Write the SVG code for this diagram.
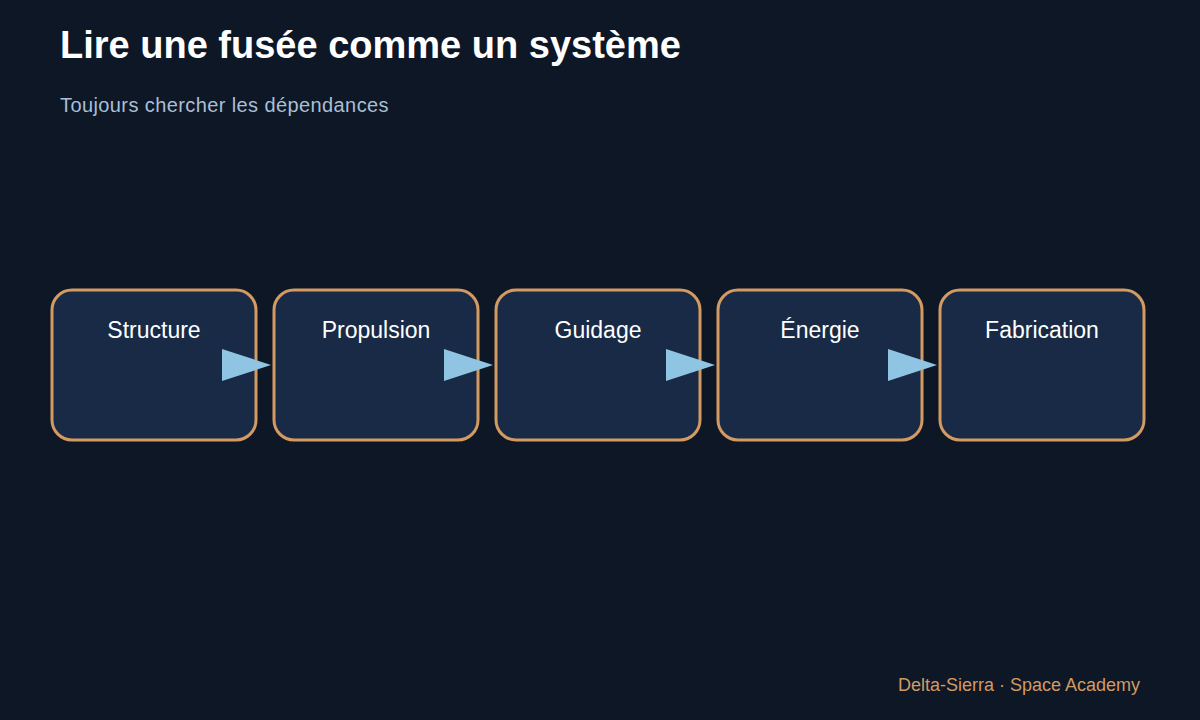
<svg xmlns="http://www.w3.org/2000/svg" width="1200" height="720" viewBox="0 0 1200 720">
<style>
.box{fill:#182a45;stroke:#d39a62;stroke-width:3}
.lbl{font-family:"Liberation Sans",Arial,sans-serif;font-size:23px;fill:#ffffff;text-anchor:middle}
.arr{fill:#8fc4e2}
</style>
<rect width="1200" height="720" fill="#0e1726"/>
<text x="60" y="58" font-family="Liberation Sans,Arial,sans-serif" font-size="38" font-weight="bold" fill="#ffffff">Lire une fusée comme un système</text>
<text x="60" y="112" font-family="Liberation Sans,Arial,sans-serif" font-size="20" fill="#a9bfd4" letter-spacing="0.4">Toujours chercher les dépendances</text>
<g id="n1"><rect class="box" x="52" y="290" width="204" height="150" rx="20"/><text class="lbl" x="154" y="338">Structure</text></g>
<g id="n2"><rect class="box" x="274" y="290" width="204" height="150" rx="20"/><text class="lbl" x="376" y="338">Propulsion</text></g>
<g id="n3"><rect class="box" x="496" y="290" width="204" height="150" rx="20"/><text class="lbl" x="598" y="338">Guidage</text></g>
<g id="n4"><rect class="box" x="718" y="290" width="204" height="150" rx="20"/><text class="lbl" x="820" y="338">Énergie</text></g>
<g id="n5"><rect class="box" x="940" y="290" width="204" height="150" rx="20"/><text class="lbl" x="1042" y="338">Fabrication</text></g>
<g id="connectors">
<polygon class="arr" points="222,349 271,365 222,381"/>
<polygon class="arr" points="444,349 493,365 444,381"/>
<polygon class="arr" points="666,349 715,365 666,381"/>
<polygon class="arr" points="888,349 937,365 888,381"/>
</g>
<text x="1140" y="691" text-anchor="end" font-family="Liberation Sans,Arial,sans-serif" font-size="18" fill="#d39a62">Delta-Sierra · Space Academy</text>
</svg>
